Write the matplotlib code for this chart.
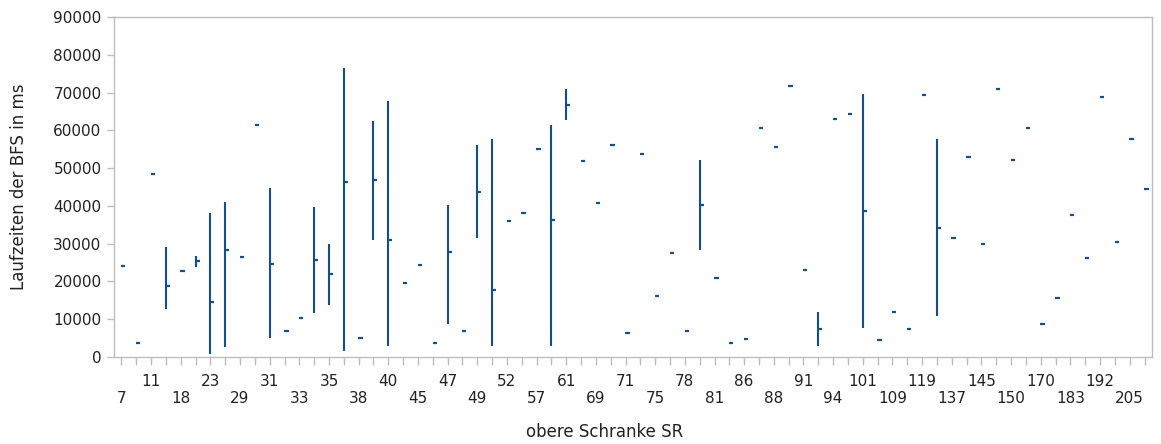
import matplotlib.pyplot as plt

# obere Schranke SR (x categories); unlabeled ticks sit between the labeled ones
categories = [7, 9, 11, 15, 18, 20, 23, 27, 29, 30,
              31, 32, 33, 34, 35, 37, 38, 39, 40, 43,
              45, 46, 47, 48, 49, 50, 52, 55, 57, 59,
              61, 65, 69, 70, 71, 73, 75, 76, 78, 80,
              81, 84, 86, 87, 88, 90, 91, 93, 94, 98,
              101, 105, 109, 112, 119, 128, 137, 141, 145, 147,
              150, 160, 170, 176, 183, 188, 192, 200, 205, 210]

# mittlere Laufzeit in ms je Kategorie
means = [24200, 3800, 48400, 18700, 22700, 25400, 14600, 28300, 26500, 61500,
         24700, 6800, 10300, 25800, 21900, 46400, 5000, 46800, 30900, 19600,
         24400, 3700, 27800, 6900, 43800, 17700, 35900, 38000, 55100, 36200,
         66700, 51800, 40800, 56000, 6400, 53700, 16100, 27500, 6900, 40200,
         20800, 3700, 4800, 60700, 55600, 71700, 23000, 7300, 63000, 64200,
         38600, 4400, 11800, 7300, 69300, 34200, 31400, 52900, 29800, 70900,
         52200, 60600, 8600, 15600, 37700, 26100, 68900, 30400, 57800, 44600]

# Kategorien mit Spannweite (min .. max)
range_cats = [15, 20, 23, 27, 31, 34, 35, 37, 39, 40, 47, 49, 50, 59, 61, 80, 93, 101, 128]
range_lo = [12600, 23800, 900, 2700, 4900, 11700, 13700, 1600, 30900, 2900,
            8600, 31400, 2800, 2800, 62700, 28400, 2800, 7700, 10800]
range_hi = [29000, 26700, 38000, 41000, 44800, 39700, 30000, 76500, 62600, 67800,
            40200, 56000, 57800, 61300, 70900, 52100, 11800, 69500, 57800]

color = '#134f8f'
grey = '#bdbdbd'

fig = plt.figure(figsize=(11.61, 4.44), dpi=100)
ax = fig.add_axes([0.0982, 0.196, 0.8940, 0.7657])

xs = list(range(len(categories)))
rx = [categories.index(c) for c in range_cats]

ax.vlines(rx, range_lo, range_hi, color=color, linewidth=1.5)
ax.hlines(means, [x - 0.02 for x in xs], [x + 0.27 for x in xs], color=color, linewidth=1.6)

ax.set_xlim(-0.5, len(categories) - 0.5)
ax.set_ylim(0, 90000)
ax.set_yticks(range(0, 90001, 10000))
ax.set_yticklabels([str(v) for v in range(0, 90001, 10000)])

labels = []
for i, c in enumerate(categories):
    if i % 4 == 0:
        labels.append('\n' + str(c))
    elif i % 2 == 0:
        labels.append(str(c))
    else:
        labels.append('')
ax.set_xticks(xs)
ax.set_xticklabels(labels)

for s in ax.spines.values():
    s.set_color(grey)
    s.set_linewidth(1)

ax.tick_params(axis='x', length=6, width=1, color=grey, pad=6, labelsize=11, labelcolor='#222222')
ax.tick_params(axis='y', length=5, width=1, color=grey, pad=4, labelsize=11, labelcolor='#222222')

ax.set_xlabel('obere Schranke SR', fontsize=12, color='#222222')
ax.set_ylabel('Laufzeiten der BFS in ms', fontsize=12, color='#222222')
ax.xaxis.set_label_coords(0.473, -0.195)
ax.yaxis.set_label_coords(-0.083, 0.5)

fig.savefig('out.png', dpi=100)
